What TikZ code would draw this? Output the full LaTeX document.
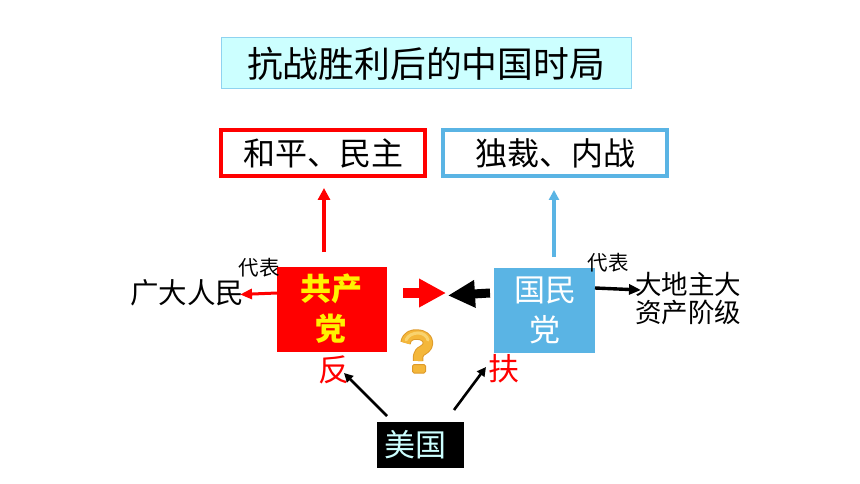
\documentclass[tikz,border=0pt]{standalone}
\usepackage{fontspec}
\usetikzlibrary{arrows.meta,positioning}
\setmainfont{Noto Sans CJK SC}
\definecolor{skyb}{HTML}{5AB4E4}
\definecolor{pale}{HTML}{CCFFFF}
\definecolor{paleedge}{HTML}{8FD3F0}
\definecolor{qlight}{HTML}{F4B73A}
\definecolor{qhigh}{HTML}{F9D36E}
\definecolor{qdark}{HTML}{DE9A2A}
\newcommand{\fs}[1]{\fontsize{#1pt}{#1pt}\selectfont}
\tikzset{
  x=1pt,y=-1pt,
  label text/.style={inner sep=0pt,outer sep=0pt,align=center,text=black},
  box/.style={inner sep=0pt,outer sep=0pt,anchor=center,align=center},
  black diag/.style={-{Triangle[length=9pt,width=9pt]},line width=2.6pt,black},
}
\begin{document}
\begin{tikzpicture}
\useasboundingbox (0,0) rectangle (860,484);
% title
\node[box,draw=paleedge,line width=1pt,fill=pale,minimum width=410pt,minimum height=51pt,font=\fs{35.8}] (title) at (426,63.5) {抗战胜利后的中国时局};
% goal boxes
\node[box,draw=red,line width=4pt,minimum width=204pt,minimum height=46pt,font=\fs{32}] (peace) at (323,153) {和平、民主};
\node[box,draw=skyb,line width=4pt,minimum width=224pt,minimum height=46pt,font=\fs{32}] (dict) at (555,153) {独裁、内战};
% party boxes
\node[box,fill=red,minimum width=110pt,minimum height=85pt] (cpc) at (332,309.5) {};
\node[inner sep=0pt,text=yellow,font=\fs{31}\bfseries] (cpc1) at (331,289) {共产};
\node[inner sep=0pt,text=yellow,font=\fs{31}\bfseries] (cpc2) at (331,329) {党};
\node[box,fill=skyb,minimum width=101pt,minimum height=85pt] (kmt) at (544.5,310.5) {};
\node[inner sep=0pt,text=white,font=\fs{31}] (kmt1) at (545,290) {国民};
\node[inner sep=0pt,text=white,font=\fs{31}] (kmt2) at (545,330) {党};
% USA
\node[box,fill=black,text=pale,minimum width=87pt,minimum height=46pt,font=\fs{31}] (usa) at (420.5,445) {美国\hspace*{10pt}};
% labels
\node[label text,font=\fs{28.5}] (people) at (187,293) {广大人民};
\node[label text,font=\fs{20.5}] (repl) at (259,268) {代表};
\node[label text,font=\fs{20.5}] (repr) at (608,263) {代表};
\node[label text,font=\fs{26.5}] (land) at (688,298.5) {大地主大\\[1pt]资产阶级};
\node[label text,text=red,font=\fs{31}] (fan) at (334,369.5) {反};
\node[label text,text=red,font=\fs{31}] (fu) at (504,369) {扶};
% free ends
\coordinate (cpctop) at (324,252);
\coordinate (peacebot) at (324,188);
\coordinate (kmttop) at (554,257);
\coordinate (dictbot) at (554,190);
\coordinate (cpcleft) at (277,293);
\coordinate (peoplee) at (240,294.5);
\coordinate (kmtright) at (595,288);
\coordinate (lande) at (641,290);
\coordinate (ra) at (403,293);
\coordinate (rb) at (446,293);
\coordinate (ba) at (490,293);
\coordinate (bb) at (448,295.5);
\coordinate (usal) at (387,416);
\coordinate (fane) at (344,373);
\coordinate (usar) at (454,410);
\coordinate (fue) at (486,367);
% connectors
\draw[-{Triangle[length=12pt,width=12pt]},line width=4pt,red] (cpctop) -- (peacebot);
\draw[-{Triangle[length=10pt,width=10pt]},line width=3.5pt,skyb] (kmttop) -- (dictbot);
\draw[-{Triangle[length=12pt,width=10pt]},line width=3pt,red] (cpcleft) -- (peoplee);
\draw[-{Triangle[length=12pt,width=10pt]},line width=3.4pt,black] (kmtright) -- (lande);
\draw[-{Triangle[length=27pt,width=27pt]},line width=10pt,red] (ra) -- (rb);
\draw[-{Triangle[length=27pt,width=26pt]},line width=9pt,black] (ba) -- (bb);
\draw[black diag] (usal) -- (fane);
\draw[black diag] (usar) -- (fue);
% question mark icon
\draw[qdark,line width=10.5pt,line join=round]
  (405.5,343) .. controls (407,335) and (413,334.5) .. (417,334.5)
  .. controls (423,334.5) and (428,338) .. (428,343)
  .. controls (428,348) and (423,350) .. (420,352)
  .. controls (418,354) and (418,357) .. (418,361);
\draw[qlight,line width=8.5pt,line join=round]
  (405.5,343) .. controls (407,335) and (413,334.5) .. (417,334.5)
  .. controls (423,334.5) and (428,338) .. (428,343)
  .. controls (428,348) and (423,350) .. (420,352)
  .. controls (418,354) and (418,357) .. (418,361);
\draw[qhigh,line width=3pt,line cap=round]
  (406,340) .. controls (408,335) and (414,333) .. (418,333)
  .. controls (423,333) and (427,336) .. (428,340);
\draw[qdark,fill=qlight,line width=1pt,rounded corners=1.5pt] (412.5,364.5) rectangle (425.5,373);
\end{tikzpicture}
\end{document}
